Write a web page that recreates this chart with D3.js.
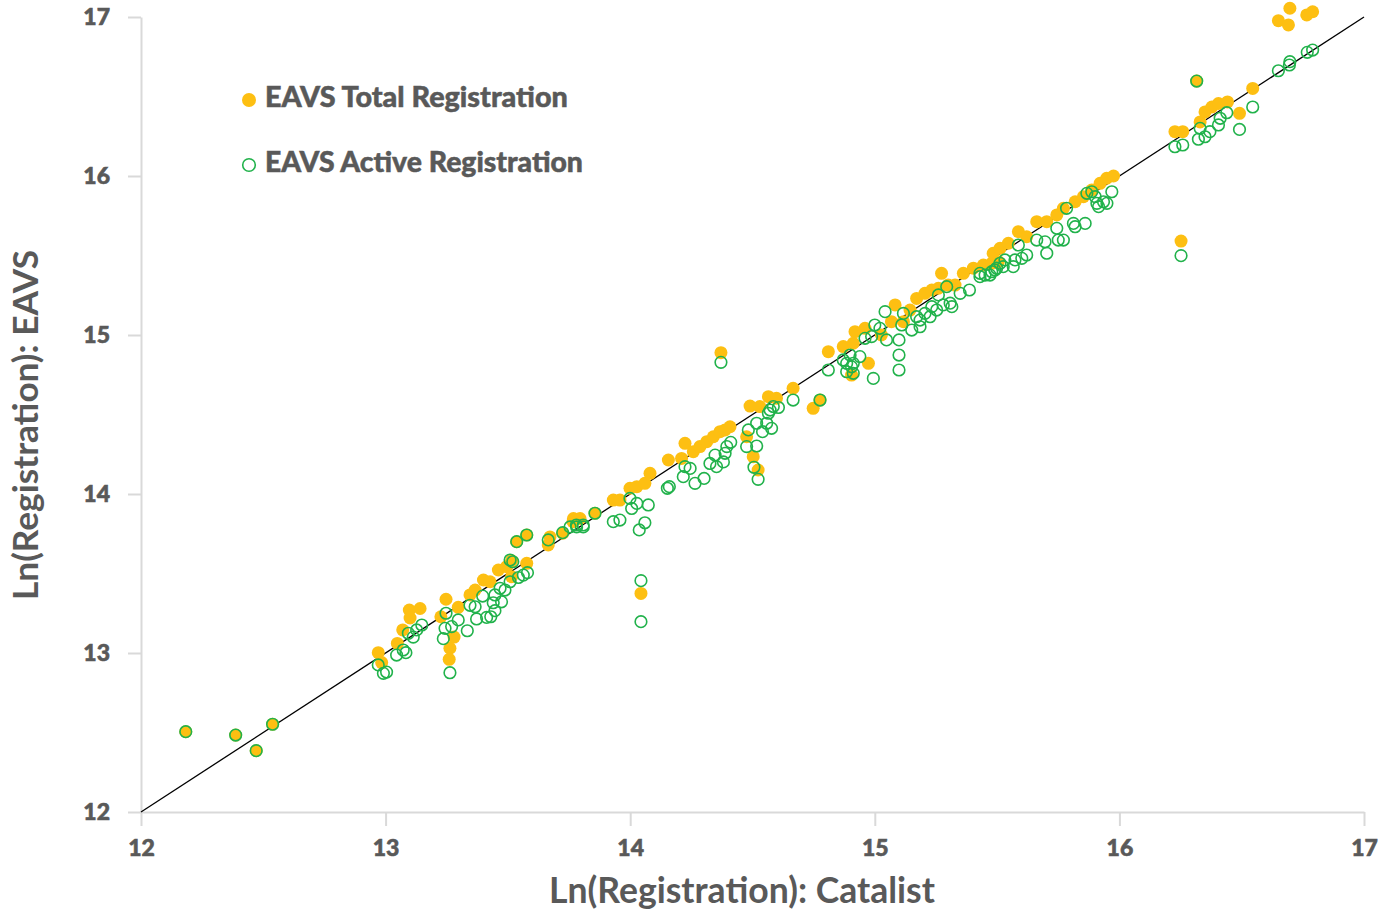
<!DOCTYPE html>
<html>
<head>
<meta charset="utf-8">
<script src="https://cdn.jsdelivr.net/npm/d3@7"></script>
<style>
  body { margin: 0; background: #fff; }
  svg text { font-family: Lato, 'Open Sans', sans-serif; fill: #595959; }
</style>
</head>
<body>
<div id="chart"></div>
<script>
// EAVS total registration vs Catalist (log values)
const totalCatalist = [
  12.183, 12.387, 12.471, 12.538,
  12.970, 12.984, 13.048, 13.070, 13.097, 13.141, 13.100, 13.247, 13.226, 13.280, 13.263, 13.260,
  13.297, 13.345, 13.366, 13.400, 13.427, 13.461, 13.495, 13.577, 13.515, 13.515, 13.672, 13.724,
  13.766, 13.577, 13.536, 13.665,
  13.768, 13.795, 13.856, 13.931, 13.958, 13.999, 14.027, 14.060, 14.081, 14.156, 14.224, 14.210,
  14.258, 14.285, 14.313, 14.340, 14.367, 14.388, 14.408, 14.371, 14.044, 14.490, 14.565, 14.598,
  14.530, 14.476, 14.503, 14.523, 14.666, 14.748, 14.776, 14.810, 14.871, 14.912,
  14.919, 14.960, 14.974, 14.905, 15.083, 15.117, 15.171, 15.205, 15.233, 15.260, 15.273, 15.300,
  15.328, 15.362, 15.403, 15.444, 15.478, 15.505, 15.027, 15.068, 15.144,
  15.484, 15.512, 15.546, 15.587, 15.621, 15.662, 15.703, 15.744, 15.771, 15.819, 15.853, 15.887,
  15.921, 15.948, 15.976,
  16.227, 16.259, 16.316, 16.330, 16.350, 16.378, 16.405, 16.442, 16.491, 16.545, 16.252, 16.650,
  16.691, 16.697, 16.766, 16.790
];
const totalEavs = [
  12.505, 12.484, 12.386, 12.552,
  13.002, 12.940, 13.060, 13.145, 13.270, 13.280, 13.220, 13.338, 13.228, 13.100, 13.030, 12.960,
  13.287, 13.365, 13.396, 13.459, 13.448, 13.522, 13.543, 13.564, 13.480, 13.580, 13.730, 13.753,
  13.826, 13.742, 13.700, 13.680,
  13.846, 13.846, 13.879, 13.962, 13.962, 14.036, 14.046, 14.067, 14.130, 14.214, 14.319, 14.224,
  14.266, 14.298, 14.329, 14.360, 14.392, 14.403, 14.423, 14.889, 13.375, 14.553, 14.612, 14.602,
  14.550, 14.360, 14.235, 14.151, 14.665, 14.539, 14.591, 14.895, 14.927, 14.948,
  15.021, 15.042, 14.822, 14.748, 15.189, 15.084, 15.230, 15.262, 15.283, 15.294, 15.388, 15.314,
  15.314, 15.388, 15.420, 15.440, 15.451, 15.461, 15.000, 15.084, 15.157,
  15.514, 15.545, 15.577, 15.650, 15.618, 15.713, 15.713, 15.755, 15.797, 15.838, 15.870, 15.912,
  15.954, 15.986, 16.000,
  16.279, 16.279, 16.597, 16.340, 16.403, 16.434, 16.456, 16.466, 16.394, 16.551, 15.591, 16.977,
  16.950, 17.055, 17.013, 17.033
];

// EAVS active registration vs Catalist
const activeCatalist = [
  12.183, 12.387, 12.471, 12.538,
  12.970, 12.991, 13.004, 13.045, 13.072, 13.083, 13.093, 13.113, 13.127, 13.148, 13.247, 13.243,
  13.270, 13.236, 13.263, 13.297, 13.334, 13.372, 13.345, 13.366, 13.397, 13.413, 13.430, 13.447,
  13.440, 13.474, 13.447, 13.468, 13.488, 13.509, 13.543, 13.563, 13.580, 13.509, 13.520, 13.665,
  13.780, 13.808, 13.577, 13.536, 13.724,
  13.754, 13.781, 13.808, 13.856, 13.931, 13.958, 13.999, 14.006, 14.027, 14.060, 14.037, 14.074,
  14.044, 14.044, 14.152, 14.160, 14.217, 14.224, 14.245, 14.265, 14.302, 14.326, 14.347, 14.353,
  14.381, 14.388, 14.395, 14.411, 14.371, 14.476, 14.483, 14.517, 14.541, 14.517, 14.506, 14.523,
  14.558, 14.578, 14.565, 14.572, 14.585, 14.606, 14.666, 14.776, 14.810, 14.885, 14.899, 14.912,
  14.905,
  14.871, 14.885, 14.912, 14.939, 14.960, 14.987, 15.000, 15.021, 15.042, 15.048, 14.994, 15.099,
  15.099, 15.099, 15.110, 15.117, 15.151, 15.185, 15.171, 15.185, 15.205, 15.226, 15.233, 15.253,
  15.260, 15.280, 15.294, 15.308, 15.315, 15.349, 15.387, 15.430, 15.451, 15.478, 15.498, 15.525,
  15.430, 15.471, 15.491, 15.512, 15.532, 15.566, 15.573, 15.587, 15.601, 15.621, 15.662, 15.696,
  15.703, 15.744, 15.750, 15.771, 15.784, 15.812, 15.819, 15.860, 15.867, 15.887, 15.901, 15.908,
  15.915, 15.935, 15.949, 15.969,
  16.227, 16.259, 16.316, 16.330, 16.323, 16.350, 16.370, 16.405, 16.412, 16.439, 16.491, 16.545,
  16.252, 16.650, 16.695, 16.697, 16.768, 16.790
];
const activeEavs = [
  12.505, 12.484, 12.386, 12.552,
  12.925, 12.872, 12.880, 12.987, 13.019, 13.002, 13.124, 13.100, 13.145, 13.176, 13.250, 13.155,
  13.166, 13.090, 12.876, 13.208, 13.140, 13.214, 13.300, 13.291, 13.358, 13.224, 13.228, 13.266,
  13.316, 13.322, 13.365, 13.407, 13.396, 13.448, 13.475, 13.490, 13.505, 13.585, 13.574, 13.711,
  13.805, 13.805, 13.742, 13.700, 13.757,
  13.793, 13.793, 13.793, 13.879, 13.826, 13.836, 13.972, 13.909, 13.941, 13.819, 13.774, 13.931,
  13.455, 13.197, 14.036, 14.046, 14.109, 14.172, 14.161, 14.067, 14.098, 14.192, 14.245, 14.172,
  14.202, 14.256, 14.298, 14.325, 14.828, 14.298, 14.403, 14.445, 14.392, 14.302, 14.168, 14.092,
  14.445, 14.413, 14.508, 14.528, 14.550, 14.544, 14.591, 14.591, 14.780, 14.822, 14.874, 14.759,
  14.800,
  14.843, 14.769, 14.822, 14.864, 14.979, 14.990, 15.063, 15.042, 15.147, 14.969, 14.727, 14.874,
  14.780, 14.969, 15.063, 15.136, 15.031, 15.052, 15.115, 15.094, 15.136, 15.115, 15.178, 15.157,
  15.252, 15.189, 15.304, 15.200, 15.178, 15.262, 15.283, 15.367, 15.377, 15.398, 15.420, 15.430,
  15.388, 15.377, 15.409, 15.451, 15.472, 15.430, 15.472, 15.566, 15.482, 15.503, 15.597, 15.586,
  15.514, 15.671, 15.597, 15.597, 15.797, 15.702, 15.681, 15.702, 15.891, 15.901, 15.870, 15.828,
  15.807, 15.838, 15.828, 15.901,
  16.184, 16.195, 16.597, 16.300, 16.231, 16.247, 16.279, 16.321, 16.363, 16.398, 16.293, 16.434,
  15.499, 16.662, 16.698, 16.719, 16.778, 16.792
];

const tickValues = [12, 13, 14, 15, 16, 17];
const seriesNames = ['EAVS Total Registration', 'EAVS Active Registration'];
const xTitle = 'Ln(Registration): Catalist';
const yTitle = 'Ln(Registration): EAVS';

const width = 1397,
  height = 911;
const yellow = '#fdbf12',
  green = '#21b24b',
  axisGrey = '#d9d9d9',
  textGrey = '#595959';

const svg = d3
  .select('#chart')
  .append('svg')
  .attr('width', width)
  .attr('height', height);

const x = d3.scaleLinear().domain([12, 17]).range([141, 1364]);
const y = d3.scaleLinear().domain([12, 17]).range([812, 17]);

// scale a text's font size so it is exactly the given width
function fitText(sel, targetWidth) {
  sel.each(function () {
    const size = parseFloat(d3.select(this).style('font-size'));
    const w = this.getComputedTextLength();
    if (w > 0) d3.select(this).style('font-size', (size * targetWidth) / w + 'px');
  });
}

// axes
const xAxis = svg
  .append('g')
  .attr('transform', `translate(0, ${y(12)})`)
  .call(d3.axisBottom(x).tickValues(tickValues).tickFormat(d3.format('d')).tickSize(14).tickSizeOuter(0).tickPadding(14));

const yAxis = svg
  .append('g')
  .attr('transform', `translate(${x(12)}, 0)`)
  .call(d3.axisLeft(y).tickValues(tickValues).tickFormat(d3.format('d')).tickSize(13).tickSizeOuter(0).tickPadding(18));

[xAxis, yAxis].forEach((g) => {
  g.select('.domain').attr('stroke', axisGrey).attr('stroke-width', 2);
  g.selectAll('.tick line').attr('stroke', axisGrey).attr('stroke-width', 2);
  g.selectAll('.tick text')
    .attr('fill', textGrey)
    .attr('stroke', textGrey)
    .attr('stroke-width', 0.6)
    .style('font-family', 'Lato, sans-serif')
    .style('font-size', '23px')
    .style('font-weight', 900);
});

// y = x reference line
svg
  .append('line')
  .attr('x1', x(12))
  .attr('y1', y(12))
  .attr('x2', x(17))
  .attr('y2', y(17))
  .attr('stroke', '#000')
  .attr('stroke-width', 1.3);

const total = totalCatalist.map((d, i) => ({ x: d, y: totalEavs[i] }));
const active = activeCatalist.map((d, i) => ({ x: d, y: activeEavs[i] }));

svg
  .append('g')
  .selectAll('circle')
  .data(total)
  .enter()
  .append('circle')
  .attr('cx', (d) => x(d.x))
  .attr('cy', (d) => y(d.y))
  .attr('r', 6.5)
  .attr('fill', yellow);

svg
  .append('g')
  .selectAll('circle')
  .data(active)
  .enter()
  .append('circle')
  .attr('cx', (d) => x(d.x))
  .attr('cy', (d) => y(d.y))
  .attr('r', 5.8)
  .attr('fill', 'none')
  .attr('stroke', green)
  .attr('stroke-width', 1.6);

// legend
const legend = svg.append('g');
legend.append('circle').attr('cx', 249).attr('cy', 100).attr('r', 7).attr('fill', yellow);
legend
  .append('circle')
  .attr('cx', 249)
  .attr('cy', 165)
  .attr('r', 6.3)
  .attr('fill', 'none')
  .attr('stroke', green)
  .attr('stroke-width', 1.6);

const legendWidths = [303, 318];
legend
  .selectAll('text')
  .data(seriesNames)
  .enter()
  .append('text')
  .attr('x', 265)
  .attr('y', (d, i) => 107 + i * 65)
  .attr('stroke', textGrey)
  .attr('stroke-width', 0.5)
  .style('font-size', '27px')
  .style('font-weight', 900)
  .text((d) => d)
  .each(function (d, i) {
    d3.select(this).call(fitText, legendWidths[i]);
  });

// axis titles
svg
  .append('text')
  .attr('x', 742)
  .attr('y', 903)
  .attr('text-anchor', 'middle')
  .style('font-size', '34px')
  .style('font-weight', 700)
  .text(xTitle)
  .call(fitText, 386);

svg
  .append('text')
  .attr('transform', 'translate(38, 425) rotate(-90)')
  .attr('text-anchor', 'middle')
  .style('font-size', '34px')
  .style('font-weight', 700)
  .text(yTitle)
  .call(fitText, 350);
</script>
</body>
</html>
